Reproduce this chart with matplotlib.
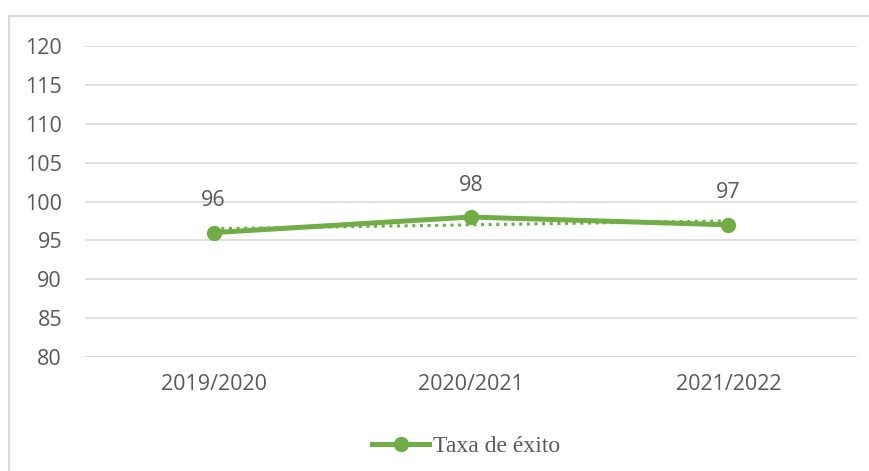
import matplotlib
matplotlib.use("Agg")
import matplotlib.pyplot as plt
import numpy as np
from matplotlib.patches import Rectangle
from matplotlib.lines import Line2D

categories = ["2019/2020", "2020/2021", "2021/2022"]
values = [96, 98, 97]
series_name = "Taxa de éxito"
yticks = [80, 85, 90, 95, 100, 105, 110, 115, 120]

green = "#70AD47"
text_color = "#595959"
grid_color = "#D9D9D9"

W, H = 869, 471
fig = plt.figure(figsize=(W / 100, H / 100), dpi=100)
fig.patch.set_facecolor("white")

# chart border (extends beyond right and bottom)
fig.patches.append(Rectangle((9 / W, -0.05), 1.2, 1 - 16 / H + 0.05, transform=fig.transFigure,
                             fill=False, edgecolor=grid_color, linewidth=1.5))

ax = fig.add_axes([85 / W, 1 - 357 / H, (857 - 85) / W, (357 - 46) / H])
x = np.arange(len(categories))
ax.set_xlim(-0.5, len(categories) - 0.5)
ax.set_ylim(min(yticks), max(yticks))
ax.set_yticks(yticks)
ax.set_xticks(x)
ax.set_xticklabels(categories)
ax.yaxis.grid(True, color=grid_color, linewidth=1.2)
ax.set_axisbelow(True)
for s in ax.spines.values():
    s.set_visible(False)
ax.tick_params(axis="both", length=0, labelsize=15.5, colors=text_color)
ax.tick_params(axis="y", pad=16.5)
ax.tick_params(axis="x", pad=12.5)
for lbl in ax.get_xticklabels() + ax.get_yticklabels():
    lbl.set_fontfamily("Open Sans")

# trendline (linear fit)
coef = np.polyfit(x, values, 1)
ax.plot(x, np.polyval(coef, x), color=green, linestyle=(0, (1, 1.5)), linewidth=2.2)

ax.plot(x, values, color=green, linewidth=3.6, marker="o", markersize=10,
        solid_capstyle="round", zorder=3)

for xi, v in zip(x, values):
    ax.annotate(str(v), (xi, v), xytext=(0, 23), textcoords="offset points",
                ha="center", va="center", fontsize=15.5, color=text_color, family="Open Sans")

handle = Line2D([], [], color=green, linewidth=3.6, marker="o", markersize=10)
fig.legend([handle], [series_name], loc="center", bbox_to_anchor=(466 / W, 1 - 446 / H),
           frameon=False, prop={"family": "Liberation Serif", "size": 17},
           handlelength=2.4, handletextpad=0.15, labelcolor=text_color)

fig.savefig("out.png", dpi=100)
